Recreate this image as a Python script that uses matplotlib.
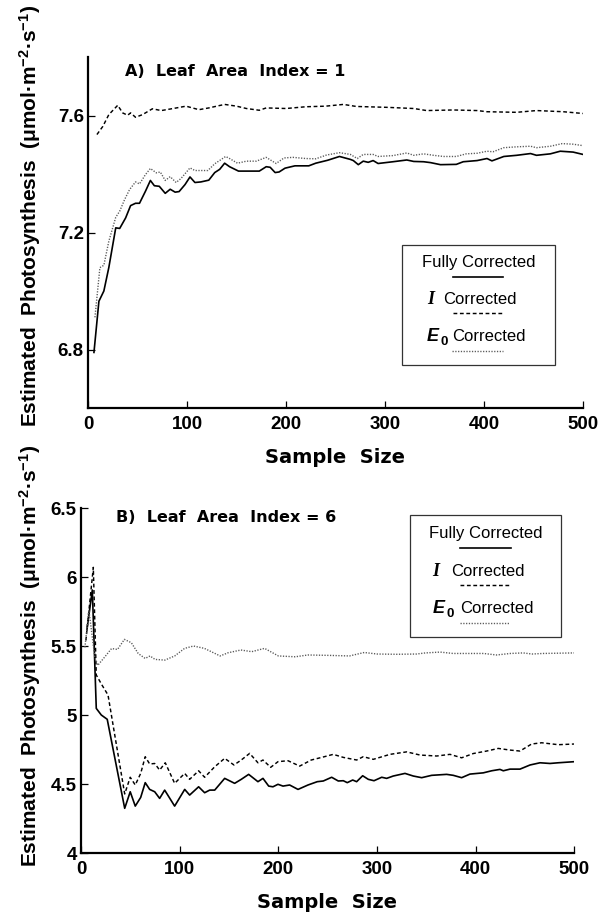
import matplotlib
matplotlib.use("Agg")
import matplotlib.pyplot as plt
from matplotlib.patches import Rectangle

plt.rcParams["font.family"] = ["Liberation Sans", "DejaVu Sans"]
plt.rcParams["font.weight"] = "bold"
plt.rcParams["mathtext.fontset"] = "custom"
plt.rcParams["mathtext.rm"] = "Liberation Sans:bold"
plt.rcParams["mathtext.bf"] = "Liberation Sans:bold"
plt.rcParams["mathtext.default"] = "bf"

# ---------------------------------------------------------------- data
# panel A, LAI = 1
x_full_a = [6, 11, 16, 21, 28, 32, 38, 43, 48, 52, 58, 63, 67, 72, 78, 83, 88, 92, 98, 103,
            108, 114, 122, 128, 133, 138, 143, 152, 173, 180, 184, 189, 193, 199, 209, 223,
            230, 242, 254, 265, 268, 273, 278, 283, 288, 293, 308, 322, 329, 339, 346, 356,
            372, 379, 393, 403, 408, 420, 433, 447, 453, 467, 477, 490, 500]
y_full_a = [6.79, 6.965, 7.00, 7.08, 7.216, 7.214, 7.25, 7.292, 7.30, 7.30, 7.341, 7.378,
            7.36, 7.358, 7.334, 7.348, 7.338, 7.34, 7.364, 7.39, 7.371, 7.373, 7.379, 7.405,
            7.416, 7.437, 7.425, 7.41, 7.41, 7.425, 7.423, 7.405, 7.407, 7.42, 7.428, 7.428,
            7.437, 7.447, 7.46, 7.45, 7.446, 7.432, 7.444, 7.44, 7.446, 7.436, 7.442, 7.448,
            7.443, 7.442, 7.439, 7.432, 7.433, 7.442, 7.446, 7.453, 7.445, 7.46, 7.464, 7.47,
            7.464, 7.469, 7.478, 7.475, 7.467]

x_i_a = [9, 15, 21, 30, 35, 40, 43, 48, 55, 65, 74, 86, 99, 112, 122, 138, 150, 160, 173,
         180, 200, 220, 240, 258, 271, 302, 329, 342, 369, 393, 403, 433, 453, 480, 500]
y_i_a = [7.535, 7.563, 7.603, 7.635, 7.609, 7.601, 7.609, 7.594, 7.603, 7.623, 7.617, 7.624,
         7.632, 7.62, 7.626, 7.638, 7.632, 7.624, 7.618, 7.626, 7.624, 7.63, 7.632, 7.638,
         7.631, 7.628, 7.624, 7.617, 7.619, 7.617, 7.613, 7.611, 7.617, 7.613, 7.607]

x_e0_a = [7, 12, 16, 21, 28, 32, 37, 42, 48, 52, 58, 63, 69, 73, 78, 83, 89, 94, 103, 108,
          121, 128, 139, 143, 151, 160, 170, 180, 190, 198, 207, 220, 230, 241, 254, 265,
          272, 278, 288, 293, 308, 322, 329, 339, 349, 359, 372, 382, 393, 403, 409, 420,
          433, 447, 453, 467, 479, 490, 500]
y_e0_a = [6.91, 7.08, 7.088, 7.17, 7.252, 7.273, 7.313, 7.347, 7.373, 7.366, 7.398, 7.419,
          7.404, 7.407, 7.378, 7.391, 7.371, 7.385, 7.421, 7.412, 7.412, 7.435, 7.46, 7.453,
          7.437, 7.444, 7.444, 7.457, 7.436, 7.455, 7.457, 7.453, 7.452, 7.465, 7.473, 7.467,
          7.453, 7.467, 7.467, 7.46, 7.463, 7.472, 7.464, 7.469, 7.464, 7.46, 7.46, 7.469,
          7.471, 7.478, 7.476, 7.49, 7.493, 7.495, 7.49, 7.495, 7.504, 7.502, 7.497]

# panel B, LAI = 6
x_full_b = [6, 11.5, 15.5, 20.6, 26.6, 44.3, 49.9, 55, 60.5, 65.1, 69.6, 74.7, 79.7, 84.8,
            94.9, 105.1, 110.1, 119.2, 125.3, 130.4, 135.5, 145.6, 155.7, 162.4, 169.9,
            179.3, 184.4, 190.2, 194.5, 199.6, 204.7, 211.4, 219.9, 230, 239.4, 245.5, 254,
            260.7, 265.8, 269.8, 275.3, 279.3, 285.4, 291.1, 296.9, 304.7, 309.7, 316.4,
            328.3, 336.7, 345.2, 355.3, 370.5, 377.2, 385.7, 394.1, 407.6, 416.1, 424.5,
            427.9, 434.7, 444.8, 455, 465.1, 475.2, 483.6, 500]
y_full_b = [5.616, 5.906, 5.048, 5.0, 4.969, 4.324, 4.444, 4.34, 4.403, 4.51, 4.461, 4.444,
            4.396, 4.456, 4.34, 4.461, 4.42, 4.48, 4.437, 4.456, 4.456, 4.541, 4.505, 4.534,
            4.57, 4.517, 4.541, 4.485, 4.48, 4.498, 4.485, 4.493, 4.461, 4.493, 4.517, 4.522,
            4.549, 4.522, 4.524, 4.51, 4.529, 4.517, 4.56, 4.534, 4.524, 4.549, 4.541, 4.558,
            4.577, 4.558, 4.546, 4.563, 4.57, 4.563, 4.546, 4.572, 4.581, 4.596, 4.606, 4.596,
            4.608, 4.608, 4.638, 4.654, 4.649, 4.654, 4.662]

x_i_b = [5, 12.5, 15.5, 21.3, 27.4, 44.3, 49.9, 55, 60.5, 65.1, 69.6, 74.7, 79.7, 85.4,
         94.9, 105.1, 110.1, 119.2, 125.3, 135.5, 145.6, 155, 162.4, 170.9, 179.3, 184.4,
         192.2, 199.6, 209.7, 221.6, 233.3, 243.9, 255.6, 265.8, 279.3, 286, 296.2, 313.1,
         330, 343.5, 360.4, 373.9, 385.7, 397.5, 411, 422.8, 434.7, 444.8, 456.6, 466.8,
         483.6, 500]
y_i_b = [5.54, 6.07, 5.29, 5.217, 5.145, 4.428, 4.549, 4.493, 4.577, 4.698, 4.645, 4.649,
         4.601, 4.654, 4.505, 4.577, 4.534, 4.596, 4.549, 4.625, 4.686, 4.638, 4.674, 4.722,
         4.654, 4.674, 4.621, 4.662, 4.669, 4.63, 4.674, 4.693, 4.715, 4.693, 4.674, 4.698,
         4.679, 4.715, 4.733, 4.71, 4.703, 4.715, 4.69, 4.721, 4.739, 4.758, 4.746, 4.739,
         4.79, 4.799, 4.785, 4.79]

x_e0_b = [4, 8, 14, 17, 24, 31, 37, 44, 51, 58, 65, 70, 75, 85, 95, 105, 114, 125, 141, 149,
          162, 173, 186, 200, 217, 230, 252, 272, 287, 300, 320, 340, 349, 364, 377, 391,
          408, 421, 435, 448, 457, 468, 500]
y_e0_b = [5.49, 5.76, 5.42, 5.36, 5.42, 5.482, 5.475, 5.548, 5.524, 5.446, 5.41, 5.428,
          5.403, 5.398, 5.428, 5.483, 5.5, 5.483, 5.428, 5.451, 5.471, 5.459, 5.483, 5.428,
          5.422, 5.435, 5.432, 5.428, 5.453, 5.442, 5.44, 5.442, 5.45, 5.456, 5.446, 5.446,
          5.446, 5.435, 5.446, 5.45, 5.442, 5.446, 5.45]

x_ticks = [0, 100, 200, 300, 400, 500]
y_ticks_a = [6.8, 7.2, 7.6]
y_ticks_b = [4, 4.5, 5, 5.5, 6, 6.5]
y_ticklabels_b = ["4", "4.5", "5", "5.5", "6", "6.5"]

titles = ["A)  Leaf  Area  Index = 1", "B)  Leaf  Area  Index = 6"]
ylab = "Estimated  Photosynthesis  (μmol·m$^{-2}$·s$^{-1}$)"

# ---------------------------------------------------------------- styles
st_full = dict(color="black", lw=1.2, ls="-")
st_i = dict(color="black", lw=1.05, ls=(0, (2.6, 1.8)))
st_e0 = dict(color="0.35", lw=1.0, ls=(0, (0.9, 1.1)))
wide = ["DejaVu Sans"]

fig = plt.figure(figsize=(6.07, 9.14), dpi=100)
ax1 = fig.add_axes([0.1450, 0.5536, 0.8155, 0.3840])
ax2 = fig.add_axes([0.1334, 0.0667, 0.8130, 0.3775])


def style_axes(ax, ylim, yticks, yticklabels):
    ax.set_xlim(0, 500)
    ax.set_ylim(*ylim)
    ax.set_xticks(x_ticks)
    ax.set_yticks(yticks)
    ax.set_yticklabels(yticklabels)
    for s in ("top", "right"):
        ax.spines[s].set_visible(False)
    for s in ("left", "bottom"):
        ax.spines[s].set_linewidth(1.6)
    ax.tick_params(direction="in", length=5, width=0.9, labelsize=13.5)
    ax.tick_params(axis="x", pad=6)
    ax.tick_params(axis="y", pad=3)


def legend_box(ax, box, rows):
    x0, x1, y0, y1 = box
    ax.add_patch(Rectangle((x0, y0), x1 - x0, y1 - y0, transform=ax.transAxes,
                           fill=False, lw=0.9, ec="0.2", clip_on=False))
    for kind, tx, ty, lx0, lx1, ly, st in rows:
        if kind == "full":
            ax.text(tx[0], ty, "Fully Corrected", transform=ax.transAxes, ha="center",
                    va="center", fontsize=12, fontweight="normal")
        elif kind == "i":
            ax.text(tx[0], ty, "I", transform=ax.transAxes, ha="center", va="center",
                    fontsize=13, fontweight="bold", fontstyle="italic",
                    family=["Liberation Serif", "DejaVu Serif"])
            ax.text(tx[1], ty, "Corrected", transform=ax.transAxes, ha="left",
                    va="center", fontsize=12, fontweight="normal")
        else:
            ax.text(tx[0], ty, "E", transform=ax.transAxes, ha="center", va="center",
                    fontsize=13, fontweight="bold", fontstyle="italic")
            ax.text(tx[2], ty - 0.016, "0", transform=ax.transAxes, ha="center",
                    va="center", fontsize=9.5, fontweight="bold")
            ax.text(tx[1], ty, "Corrected", transform=ax.transAxes, ha="left",
                    va="center", fontsize=12, fontweight="normal")
        ax.plot([lx0, lx1], [ly, ly], transform=ax.transAxes, clip_on=False, **st)


# ---------------------------------------------------------------- panel A
ax1.plot(x_full_a, y_full_a, **st_full)
ax1.plot(x_i_a, y_i_a, **st_i)
ax1.plot(x_e0_a, y_e0_a, **st_e0)
style_axes(ax1, (6.6, 7.8), y_ticks_a, [f"{v:.1f}" for v in y_ticks_a])
ax1.text(0.074, 0.960, titles[0], transform=ax1.transAxes, ha="left", va="center",
         fontsize=11.5, fontweight="bold", family=wide)
legend_box(ax1, (0.634, 0.943, 0.123, 0.464), [
    ("full", (0.789,), 0.414, 0.738, 0.839, 0.372, st_full),
    ("i", (0.693, 0.718), 0.308, 0.737, 0.838, 0.271, st_i),
    ("e0", (0.696, 0.735, 0.719), 0.203, 0.735, 0.838, 0.162, st_e0),
])

# ---------------------------------------------------------------- panel B
ax2.plot(x_full_b, y_full_b, **st_full)
ax2.plot(x_i_b, y_i_b, **st_i)
ax2.plot(x_e0_b, y_e0_b, **st_e0)
style_axes(ax2, (4, 6.5), y_ticks_b, y_ticklabels_b)
ax2.text(0.071, 0.972, titles[1], transform=ax2.transAxes, ha="left", va="center",
         fontsize=11.5, fontweight="bold", family=wide)
legend_box(ax2, (0.667, 0.972, 0.627, 0.980), [
    ("full", (0.821,), 0.925, 0.769, 0.871, 0.883, st_full),
    ("i", (0.719, 0.751), 0.817, 0.768, 0.869, 0.777, st_i),
    ("e0", (0.725, 0.768, 0.748), 0.709, 0.768, 0.869, 0.667, st_e0),
])

# ---------------------------------------------------------------- axis labels
fig.text(0.552, 0.499, "Sample  Size", ha="center", va="center", fontsize=14,
         fontweight="bold", family=wide)
fig.text(0.539, 0.013, "Sample  Size", ha="center", va="center", fontsize=14,
         fontweight="bold", family=wide)
fig.text(0.049, 0.7637, ylab, rotation=90, ha="center", va="center", fontsize=15,
         fontweight="bold")
fig.text(0.049, 0.2823, ylab, rotation=90, ha="center", va="center", fontsize=15,
         fontweight="bold")

fig.savefig("out.png", dpi=100)
